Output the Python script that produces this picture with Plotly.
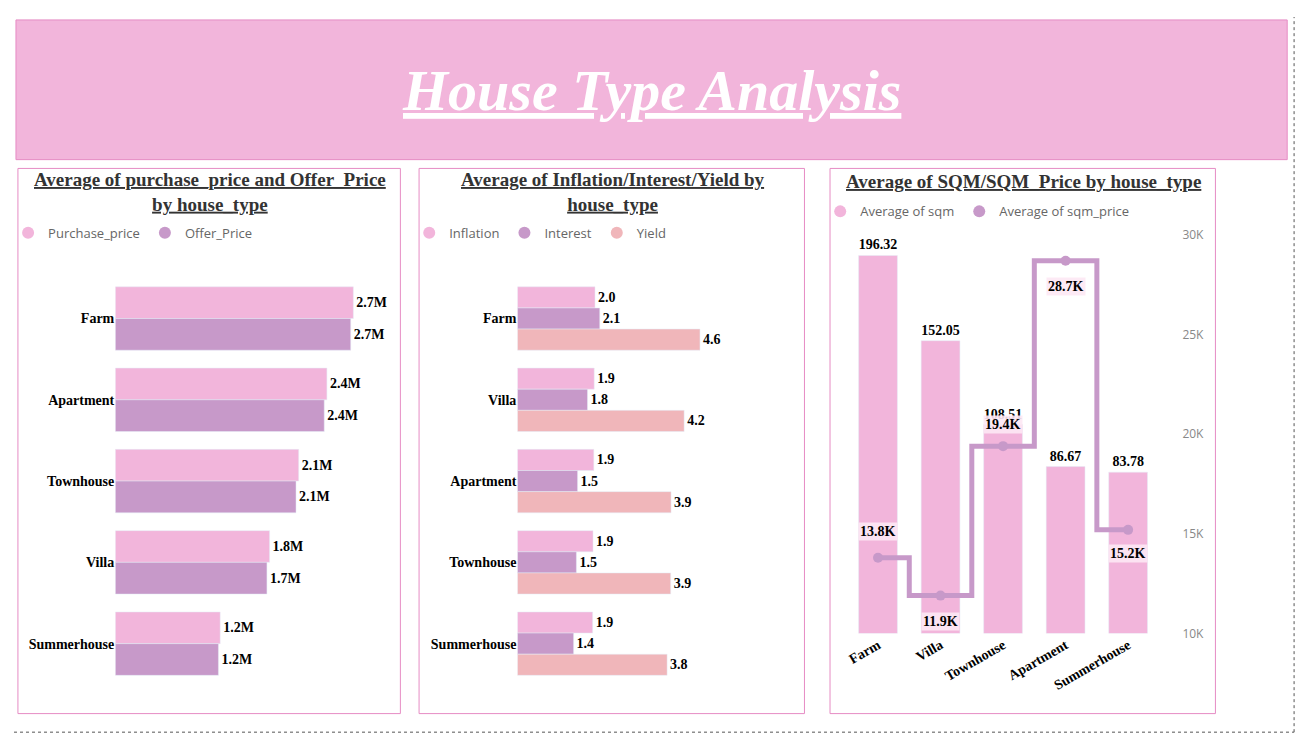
import plotly.graph_objects as go

W, H = 1307, 739
def px(x): return x / W
def py(y): return 1 - y / H

types1 = ["Farm", "Apartment", "Townhouse", "Villa", "Summerhouse"]
purchase = [2.70e6, 2.40e6, 2.08e6, 1.75e6, 1.19e6]
offer = [2.67e6, 2.37e6, 2.05e6, 1.72e6, 1.17e6]

types2 = ["Farm", "Villa", "Apartment", "Townhouse", "Summerhouse"]
inflation = [1.96, 1.94, 1.93, 1.91, 1.90]
interest = [2.08, 1.77, 1.52, 1.49, 1.42]
yield_ = [4.61, 4.21, 3.88, 3.87, 3.78]

types3 = ["Farm", "Villa", "Townhouse", "Apartment", "Summerhouse"]
sqm = [196.32, 152.05, 108.51, 86.67, 83.78]
sqm_price = [13800, 11900, 19400, 28700, 15200]
sqm_price_lbl = ["13.8K", "11.9K", "19.4K", "28.7K", "15.2K"]

PINK = "#f2b5db"; PURPLE = "#c799c9"; SALMON = "#f0b6ba"
SERIF = "Liberation Serif, Times New Roman, serif"
SANS = "Open Sans, sans-serif"
lblfont = dict(family=SERIF, size=14, color="black")

fig = go.Figure()

fig.add_bar(y=types1, x=purchase, orientation="h", marker_color=PINK, name="Purchase_price",
            texttemplate="<b>%{x:.2s}</b>", textposition="outside", textfont=lblfont,
            xaxis="x", yaxis="y", showlegend=False, cliponaxis=False)
fig.add_bar(y=types1, x=offer, orientation="h", marker_color=PURPLE, name="Offer_Price",
            texttemplate="<b>%{x:.2s}</b>", textposition="outside", textfont=lblfont,
            xaxis="x", yaxis="y", showlegend=False, cliponaxis=False)
for nm, vals, c in [("Inflation", inflation, PINK), ("Interest", interest, PURPLE), ("Yield", yield_, SALMON)]:
    fig.add_bar(y=types2, x=vals, orientation="h", marker_color=c, name=nm,
                texttemplate="<b>%{x:.1f}</b>", textposition="outside", textfont=lblfont,
                xaxis="x2", yaxis="y2", showlegend=False, cliponaxis=False)
fig.add_bar(x=types3, y=sqm, marker_color=PINK, name="Average of sqm",
            texttemplate="<b>%{y:.2f}</b>", textposition="outside", textfont=lblfont,
            xaxis="x3", yaxis="y3", showlegend=False, cliponaxis=False, width=0.62)
fig.add_scatter(x=types3, y=sqm_price, mode="lines+markers", line=dict(color=PURPLE, width=5, shape="hvh"),
                marker=dict(size=10, color=PURPLE), name="Average of sqm_price",
                xaxis="x3", yaxis="y4", showlegend=False, cliponaxis=False)

def dummy(name, color, legend, xa, ya):
    fig.add_scatter(x=[None], y=[None], mode="markers", marker=dict(size=12, color=color, symbol="circle"),
                    name=name, legend=legend, xaxis=xa, yaxis=ya)
dummy("Purchase_price", PINK, "legend", "x", "y")
dummy("Offer_Price", PURPLE, "legend", "x", "y")
dummy("Inflation", PINK, "legend2", "x2", "y2")
dummy("Interest", PURPLE, "legend2", "x2", "y2")
dummy("Yield", SALMON, "legend2", "x2", "y2")
dummy("Average of sqm", PINK, "legend3", "x3", "y3")
dummy("Average of sqm_price", PURPLE, "legend3", "x3", "y3")

legfont = dict(family=SANS, size=13, color="#666")
def leg(x, y):
    return dict(x=px(x), y=py(y), xanchor="left", yanchor="middle", orientation="h",
                font=legfont, bgcolor="rgba(0,0,0,0)", itemwidth=30, tracegroupgap=0, itemclick=False)

catfont = dict(family=SERIF, size=14, color="black", weight="bold")
ydom = [py(683), py(267)]
fig.update_layout(
    autosize=True, margin=dict(l=0, r=0, t=0, b=0),
    paper_bgcolor="white", plot_bgcolor="rgba(0,0,0,0)",
    barmode="group", bargap=0.22,
    legend=leg(-6, 221), legend2=leg(402, 221), legend3=leg(820, 199),
    xaxis=dict(domain=[px(103), px(390)], range=[0, 3.2e6], visible=False),
    yaxis=dict(domain=ydom, autorange="reversed", tickfont=catfont, showgrid=False, ticks="", anchor="x"),
    xaxis2=dict(domain=[px(512), px(794)], range=[0, 7], visible=False, anchor="y2"),
    yaxis2=dict(domain=ydom, autorange="reversed", tickfont=catfont, showgrid=False, ticks="", anchor="x2"),
    xaxis3=dict(domain=[px(847), px(1165)], anchor="y3", tickfont=catfont, tickangle=-30, showgrid=False, ticks=""),
    yaxis3=dict(domain=[py(631), py(223)], range=[0, 207], visible=False, anchor="x3"),
    yaxis4=dict(overlaying="y3", side="right", anchor="x3", range=[10000, 30000],
                tickvals=[10000, 15000, 20000, 25000, 30000], ticktext=["10K", "15K", "20K", "25K", "30K"],
                tickfont=dict(family=SANS, size=12, color="#888"), showgrid=False, ticklabelstandoff=22,
                zeroline=False),
)

shapes = [
    dict(type="rect", xref="paper", yref="paper", x0=px(2), x1=px(1295), y0=py(146), y1=py(3),
         fillcolor=PINK, line=dict(color="#e68cc4", width=1), layer="below"),
]
for x0, x1 in [(4, 393), (412, 804), (830, 1222)]:
    shapes.append(dict(type="rect", xref="paper", yref="paper", x0=px(x0), x1=px(x1), y0=py(713), y1=py(155),
                       line=dict(color="#e68cc4", width=1), layer="below"))
shapes.append(dict(type="line", xref="paper", yref="paper", x0=px(1302), x1=px(1302), y0=py(732), y1=py(0),
                   line=dict(color="#555", width=1, dash="dot")))
shapes.append(dict(type="line", xref="paper", yref="paper", x0=px(0), x1=px(1302), y0=py(732), y1=py(732),
                   line=dict(color="#555", width=1, dash="dot")))
fig.update_layout(shapes=shapes)

ttl = dict(family=SERIF, size=19, color="#333")
def a(text, x, y, font):
    return dict(text=text, x=px(x), y=py(y), xref="paper", yref="paper", showarrow=False,
                xanchor="center", yanchor="middle", font=font)
anns = [
    a("<b><i><u>House Type Analysis</u></i></b>", 648, 75, dict(family=SERIF, size=58, color="white")),
    a("<b><u>Average of purchase_price and Offer_Price</u></b><br><b><u>by house_type</u></b>", 199, 179, ttl),
    a("<b><u>Average of Inflation/Interest/Yield by</u></b><br><b><u>house_type</u></b>", 609, 179, ttl),
    a("<b><u>Average of SQM/SQM_Price by house_type</u></b>", 1027, 168, ttl),
]
offs = [-26, 26, -22, 26, 24]
for t, v, l, o in zip(types3, sqm_price, sqm_price_lbl, offs):
    anns.append(dict(x=t, y=v, xref="x3", yref="y4", text="<b>" + l + "</b>", showarrow=False,
                     yshift=-o, font=lblfont, bgcolor="rgba(253,232,244,0.9)"))
fig.update_layout(annotations=anns)

fig.write_html("out.html", default_width="100%", default_height="100vh",
               include_plotlyjs=True)
